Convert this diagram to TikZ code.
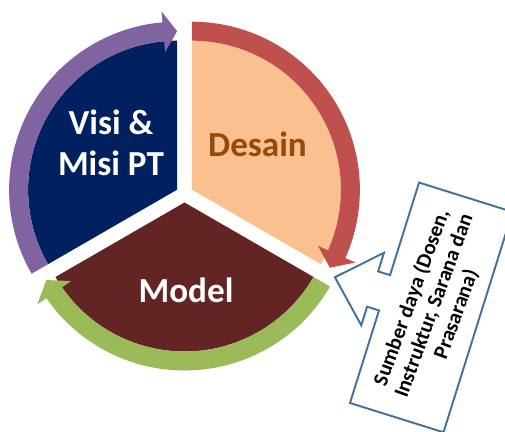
\documentclass[tikz,border=0pt]{standalone}
\usepackage{fontspec}
\setmainfont{Carlito}
\usepackage{tikz}
\definecolor{visiblue}{HTML}{002060}
\definecolor{visipurple}{HTML}{8064A2}
\definecolor{desainfill}{HTML}{FAC090}
\definecolor{desainred}{HTML}{C0504D}
\definecolor{desaintext}{HTML}{984807}
\definecolor{modelfill}{HTML}{632523}
\definecolor{modelgreen}{HTML}{9BBB59}
\definecolor{calloutblue}{HTML}{41719C}
\tikzset{
        pietext/.style={font=\bfseries\fontsize{20}{23}\selectfont, align=center},
        callout/.style={draw=calloutblue, line width=1.1pt, fill=white, line join=miter},
        callouttext/.style={font=\bfseries\fontsize{12}{13.5}\selectfont, align=center},
 }
% band with head: start angle, head base angle, tip angle, colour
\newcommand{\cyclearrow}[4]{%
  \fill[#4] (#1:168) arc[start angle=#1, end angle=#2, radius=168]
    -- (#2:179) -- (#3:158.5) -- (#2:138)
    -- (#2:149) arc[start angle=#2, end angle=#1, radius=149] -- cycle;}

\begin{document}
\begin{tikzpicture}[x=0.02cm, y=0.02cm]
    \clip (0,0) rectangle (505,432);

    \coordinate (visi) at (177.1,242.3);
    \coordinate (desain) at (191.9,242.3);
    \coordinate (model) at (184.5,229.5);

    \begin{scope}[shift={(visi)}]
        \fill[visiblue] (0,0) -- (90:149) arc[start angle=90, end angle=210, radius=149] -- cycle;
        \cyclearrow{210}{95}{90}{visipurple}
    \end{scope}
    \begin{scope}[shift={(desain)}]
        \fill[desainfill] (0,0) -- (-30:149) arc[start angle=-30, end angle=90, radius=149] -- cycle;
        \cyclearrow{90}{-24}{-29.5}{desainred}
    \end{scope}
    \begin{scope}[shift={(model)}]
        \fill[modelfill] (0,0) -- (210:149) arc[start angle=210, end angle=330, radius=149] -- cycle;
        \cyclearrow{-30}{-145.3}{-150.7}{modelgreen}
    \end{scope}

    \node[pietext, text=white] (visitext) at (111,289) {Visi \&\\Misi PT};
    \node[pietext, text=desaintext] (desaintext) at (257.5,288) {Desain};
    \node[pietext, text=white] (modeltext) at (186,142) {Model};

    % left arrow callout
    \begin{scope}[shift={(350,29)}, rotate=-17.4]
        \draw[callout] (0,0) -- (0,97) -- (-12.5,97) -- (-12.5,77.5) -- (-52,115.5)
            -- (-12.5,153.5) -- (-12.5,134) -- (0,134) -- (0,231) -- (98,231)
            -- (98,0) -- cycle;
    \end{scope}
    \node[callouttext, rotate=70] (sumber) at (434,126)
        {Sumber daya (Dosen,\\Instruktur, Sarana dan\\Prasarana)};
\end{tikzpicture}
\end{document}
